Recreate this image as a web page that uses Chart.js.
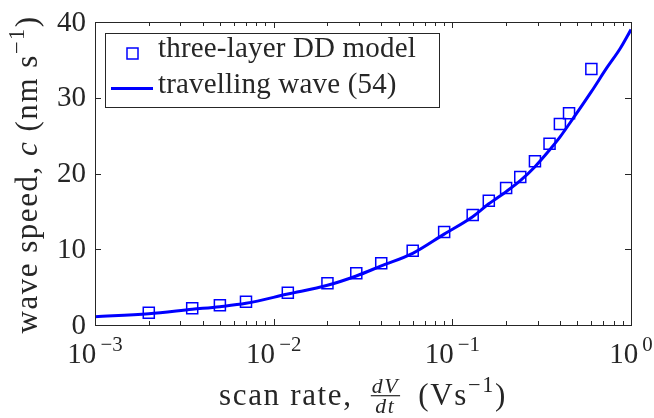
<!DOCTYPE html>
<html>
<head>
<meta charset="utf-8">
<script src="https://cdn.jsdelivr.net/npm/chart.js@4.4.1/dist/chart.umd.min.js"></script>
<style>
  html, body { margin: 0; background: #fff; }
</style>
</head>
<body>
<canvas id="chart" width="654" height="418"></canvas>
<script>
// three-layer DD model (squares)
const ddRate = [0.002, 0.0035, 0.005, 0.007, 0.012, 0.02, 0.029, 0.04, 0.06, 0.09,
  0.13, 0.16, 0.2, 0.24, 0.29, 0.35, 0.4, 0.45, 0.6];
const ddSpeed = [1.62, 2.2, 2.6, 3.08, 4.26, 5.5, 6.82, 8.15, 9.81, 12.28,
  14.52, 16.41, 18.09, 19.54, 21.61, 23.93, 26.53, 27.95, 33.8];

// travelling wave (54) (line)
const waveRate = [0.001, 0.002, 0.0035, 0.005, 0.007, 0.012, 0.02, 0.029, 0.04, 0.06,
  0.09, 0.13, 0.16, 0.2, 0.24, 0.29, 0.35, 0.4, 0.45, 0.6, 0.73, 0.87, 1.0];
const waveSpeed = [1.1, 1.49, 2.07, 2.42, 2.86, 4.09, 5.24, 6.47, 7.8, 9.46,
  12.0, 14.3, 16.0, 17.6, 19.05, 20.9, 23.1, 24.8, 26.5, 30.8, 33.9, 36.5, 39.0];

const xMajor = [0.001, 0.01, 0.1, 1];
const xTickExp = ["\u22123", "\u22122", "\u22121", "0"];
const yTicks = [0, 10, 20, 30, 40];
const seriesNames = ["three-layer DD model", "travelling wave (54)"];

const SERIF = '"Liberation Serif", "DejaVu Serif", serif';
const INK = "#262626";
const BLUE = "#0000ff";

function font(size, italic) {
  return (italic ? "italic " : "") + size + "px " + SERIF;
}

// pieces: {t, it, sup, frac:[num, den]}
function runWidth(ctx, parts, s, ls) {
  ctx.letterSpacing = (ls || 0) + "px";
  let w = 0;
  parts.forEach((p) => {
    if (p.frac) {
      ctx.font = font(s * 0.7, true);
      w += Math.max(ctx.measureText(p.frac[0]).width, ctx.measureText(p.frac[1]).width) + s * 0.12;
    } else {
      ctx.font = font(p.sup ? s * 0.72 : s, p.it);
      w += ctx.measureText(p.t).width;
    }
  });
  ctx.letterSpacing = "0px";
  return w;
}

// letter spacing that stretches a run at size s to the target width
function fitSpacing(ctx, parts, s, target) {
  const w0 = runWidth(ctx, parts, s, 0);
  const w1 = runWidth(ctx, parts, s, 1);
  if (w1 - w0 < 0.5) return 0;
  return Math.max(0, (target - w0) / (w1 - w0));
}

function drawRun(ctx, parts, x, y, s, ls) {
  ctx.textAlign = "left";
  ctx.textBaseline = "alphabetic";
  ctx.letterSpacing = (ls || 0) + "px";
  parts.forEach((p) => {
    if (p.frac) {
      ctx.font = font(s * 0.7, true);
      const wn = ctx.measureText(p.frac[0]).width;
      const wd = ctx.measureText(p.frac[1]).width;
      const fw = Math.max(wn, wd) + s * 0.12;
      const bar = y - s * 0.3;
      ctx.fillText(p.frac[0], x + (fw - wn) / 2, bar - s * 0.1);
      ctx.fillText(p.frac[1], x + (fw - wd) / 2, bar + s * 0.55);
      ctx.fillRect(x + s * 0.03, bar - 0.6, fw - s * 0.06, 1.2);
      x += fw;
    } else {
      ctx.font = font(p.sup ? s * 0.72 : s, p.it);
      ctx.fillText(p.t, x, p.sup ? y - s * 0.42 : y);
      x += ctx.measureText(p.t).width;
    }
  });
  ctx.letterSpacing = "0px";
}

const xTitle = [
  { t: "scan rate,\u2002" }, { frac: ["dV", "dt"] }, { t: "\u2002(Vs" },
  { t: "\u22121", sup: true }, { t: ")" },
];
const yTitle = [
  { t: "wave speed, " }, { t: "c", it: true }, { t: " (nm s" },
  { t: "\u22121", sup: true }, { t: ")" },
];

const framePlugin = {
  id: "matlabFrame",
  afterDraw(chart) {
    const { ctx, chartArea: a, scales: { x, y } } = chart;
    ctx.save();
    ctx.strokeStyle = INK;
    ctx.fillStyle = INK;
    ctx.lineWidth = 1;

    // ticks, inward on all four sides
    const minor = [];
    [0.001, 0.01, 0.1].forEach((d) => {
      for (let m = 2; m <= 9; m++) minor.push(d * m);
    });
    ctx.beginPath();
    minor.forEach((v) => {
      const px = Math.round(x.getPixelForValue(v)) + 0.5;
      ctx.moveTo(px, a.bottom); ctx.lineTo(px, a.bottom - 4);
      ctx.moveTo(px, a.top); ctx.lineTo(px, a.top + 4);
    });
    xMajor.forEach((v) => {
      const px = Math.round(x.getPixelForValue(v)) + 0.5;
      ctx.moveTo(px, a.bottom); ctx.lineTo(px, a.bottom - 6);
      ctx.moveTo(px, a.top); ctx.lineTo(px, a.top + 6);
    });
    yTicks.forEach((v) => {
      const py = Math.round(y.getPixelForValue(v)) + 0.5;
      ctx.moveTo(a.left, py); ctx.lineTo(a.left + 6, py);
      ctx.moveTo(a.right, py); ctx.lineTo(a.right - 6, py);
    });
    ctx.stroke();

    ctx.strokeRect(Math.round(a.left) + 0.5, Math.round(a.top) + 0.5,
      Math.round(a.right - a.left), Math.round(a.bottom - a.top));

    // y tick labels
    ctx.font = font(29);
    ctx.textAlign = "right";
    ctx.textBaseline = "middle";
    yTicks.forEach((v) => {
      ctx.fillText(String(v), a.left - 9, y.getPixelForValue(v) + 1);
    });

    // x tick labels 10^n
    xMajor.forEach((v, i) => {
      const parts = [{ t: "10" }, { t: "\u2009" + xTickExp[i], sup: true }];
      const w = runWidth(ctx, parts, 29, 0);
      drawRun(ctx, parts, x.getPixelForValue(v) - w / 2, a.bottom + 38, 29, 0);
    });

    // axis titles
    const cx = (a.left + a.right) / 2;
    const sx = 31;
    const lsx = fitSpacing(ctx, xTitle, sx, 288);
    const wx = runWidth(ctx, xTitle, sx, lsx);
    drawRun(ctx, xTitle, cx - wx / 2, 405, sx, lsx);

    const cy = (a.top + a.bottom) / 2 + 1;
    const sy = 31;
    const lsy = fitSpacing(ctx, yTitle, sy, 318);
    const wy = runWidth(ctx, yTitle, sy, lsy);
    ctx.save();
    ctx.translate(37, cy);
    ctx.rotate(-Math.PI / 2);
    drawRun(ctx, yTitle, -wy / 2, 0, sy, lsy);
    ctx.restore();

    // legend
    const lx = 105.5, ly = 33.5, lw = 334, lh = 74;
    ctx.fillStyle = "#fff";
    ctx.fillRect(lx, ly, lw, lh);
    ctx.strokeStyle = INK;
    ctx.lineWidth = 1;
    ctx.strokeRect(lx, ly, lw, lh);
    ctx.strokeStyle = BLUE;
    ctx.lineWidth = 1.5;
    ctx.strokeRect(127, 48, 11, 11);
    ctx.lineWidth = 3;
    ctx.beginPath();
    ctx.moveTo(111, 88.5); ctx.lineTo(153, 88.5);
    ctx.stroke();
    ctx.fillStyle = INK;
    const sl = 29;
    const lsl = fitSpacing(ctx, [{ t: seriesNames[0] }], sl, 258);
    drawRun(ctx, [{ t: seriesNames[0] }], 158, 57, sl, lsl);
    drawRun(ctx, [{ t: seriesNames[1] }], 158, 93, sl, lsl);

    ctx.restore();
  },
};

new Chart(document.getElementById("chart"), {
  type: "scatter",
  data: {
    datasets: [
      {
        label: seriesNames[1],
        data: waveRate.map((v, i) => ({ x: v, y: waveSpeed[i] })),
        showLine: true,
        pointRadius: 0,
        borderColor: BLUE,
        borderWidth: 3,
        cubicInterpolationMode: "monotone",
        order: 0,
      },
      {
        label: seriesNames[0],
        data: ddRate.map((v, i) => ({ x: v, y: ddSpeed[i] })),
        pointStyle: "rect",
        pointRadius: 7.8,
        borderColor: BLUE,
        borderWidth: 1.5,
        backgroundColor: "rgba(0,0,0,0)",
        order: 1,
      },
    ],
  },
  options: {
    responsive: false,
    animation: false,
    devicePixelRatio: 1,
    layout: { padding: { left: 95, right: 23, top: 22, bottom: 93 } },
    plugins: { legend: { display: false }, tooltip: { enabled: false } },
    scales: {
      x: { type: "logarithmic", min: 0.001, max: 1, display: false },
      y: { type: "linear", min: 0, max: 40, display: false },
    },
  },
  plugins: [framePlugin],
});
</script>
</body>
</html>
